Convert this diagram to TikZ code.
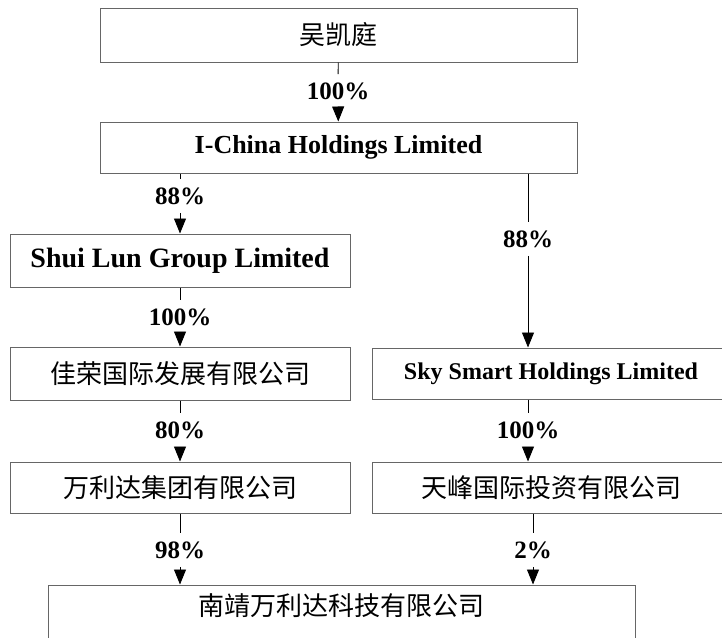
\documentclass[tikz,border=0pt]{standalone}
\usepackage{fontspec}
\setmainfont{Liberation Serif}
\newfontfamily\cjk{Noto Sans CJK SC}
\usepackage{tikz}
\usetikzlibrary{arrows.meta}

\tikzset{
	box/.style={draw=black!60, line width=1pt, inner sep=0pt},
	pct/.style={font=\fontsize{25}{28}\selectfont\bfseries, text height=17pt, text depth=0pt, inner xsep=2pt, inner ysep=8pt},
	arr/.style={-{Triangle[length=15pt,width=12pt]}}
}

\begin{document}
\begin{tikzpicture}[x=1pt, y=-1pt, line width=0.9pt]
	\useasboundingbox (0,0) rectangle (722,637);
	\clip (0,0) rectangle (722,637);
	% companies
	\node[box, minimum width=477pt, minimum height=54pt, font=\cjk\fontsize{26}{30}\selectfont] (wu) at (338.5,35) {吴凯庭};
	\node[box, minimum width=477pt, minimum height=51pt, font=\fontsize{26}{30}\selectfont\bfseries] (ichina) at (338.5,147.5) {I-China Holdings Limited};
	\node[box, minimum width=340pt, minimum height=53pt, font=\fontsize{28}{30}\selectfont\bfseries] (shuilun) at (180,260.5) {Shui Lun Group Limited};
	\node[box, minimum width=340pt, minimum height=53pt, font=\cjk\fontsize{26}{30}\selectfont] (jiarong) at (180,373.5) {佳荣国际发展有限公司};
	\node[box, minimum width=358pt, minimum height=51pt, font=\fontsize{24}{28}\selectfont\bfseries] (sky) at (551,373.5) {Sky Smart Holdings Limited};
	\node[box, minimum width=340pt, minimum height=51pt, font=\cjk\fontsize{26}{30}\selectfont] (wanlida) at (180,487.5) {万利达集团有限公司};
	\node[box, minimum width=358pt, minimum height=51pt, font=\cjk\fontsize{26}{30}\selectfont] (tianfeng) at (551,487.5) {天峰国际投资有限公司};
	\node[box, minimum width=587pt, minimum height=70pt, text height=20pt, text depth=30pt, font=\cjk\fontsize{26}{30}\selectfont] (nanjing) at (341.5,620) {南靖万利达科技有限公司};
	% shares
	\foreach \nm/\px/\py/\pc in {pa/338/91/100, pb/180/196/88, pc/528/239/88, pd/180/317/100, pe/180/430/80, pf/528/430/100, pg/180/550/98, ph/533/550/2}
	{
		\node[pct] (\nm) at (\px,\py) {\pc\%};
	}
	\draw (wu) -- (pa);
	\draw[arr] (pa) -- (ichina);
	\draw (ichina.south -| pb) -- (pb);
	\draw[arr] (pb) -- (shuilun);
	\draw (ichina.south -| pc) -- (pc);
	\draw[arr] (pc) -- (pc |- sky.north);
	\draw (shuilun) -- (pd);
	\draw[arr] (pd) -- (jiarong);
	\draw (jiarong) -- (pe);
	\draw[arr] (pe) -- (wanlida);
	\draw (sky.south -| pf) -- (pf);
	\draw[arr] (pf) -- (pf |- tianfeng.north);
	\draw (wanlida) -- (pg);
	\draw[arr] (pg) -- (pg |- nanjing.north);
	\draw (tianfeng.south -| ph) -- (ph);
	\draw[arr] (ph) -- (ph |- nanjing.north);
\end{tikzpicture}
\end{document}
